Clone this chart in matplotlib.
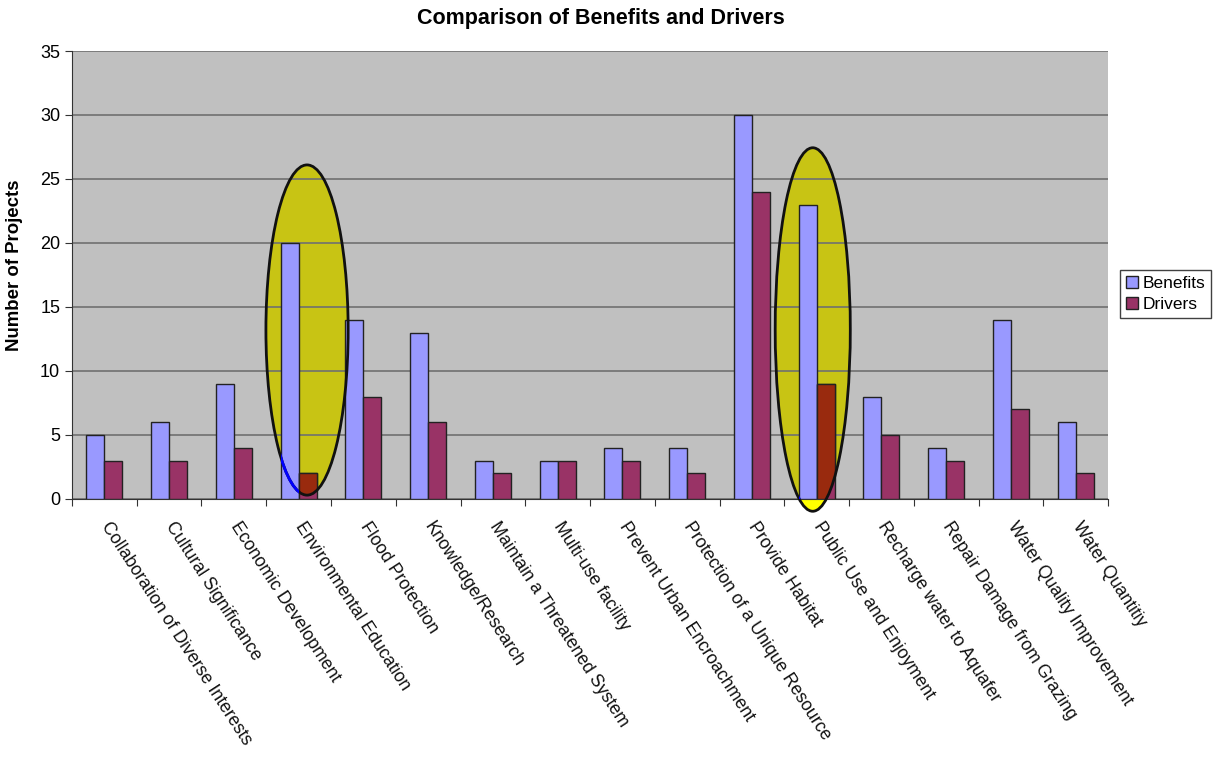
import numpy as np
import matplotlib
matplotlib.use("Agg")
import matplotlib.pyplot as plt
from matplotlib.patches import Ellipse

categories = ["Collaboration of Diverse Interests", "Cultural Significance",
              "Economic Development", "Environmental Education", "Flood Protection",
              "Knowledge/Research", "Maintain a Threatened System", "Multi-use facility",
              "Prevent Urban Encroachment", "Protection of a Unique Resource",
              "Provide Habitat", "Public Use and Enjoyment", "Recharge water to Aquafer",
              "Repair Damage from Grazing", "Water Quality Improvement", "Water Quantitiy"]
benefits = [5, 6, 9, 20, 14, 13, 3, 3, 4, 4, 30, 23, 8, 4, 14, 6]
drivers = [3, 3, 4, 2, 8, 6, 2, 3, 3, 2, 24, 9, 5, 3, 7, 2]
highlighted = [3, 11]

plt.rcParams['font.family'] = ['Liberation Sans', 'DejaVu Sans']

fig = plt.figure(figsize=(12.14, 7.59), dpi=100)
ax = fig.add_axes([0.0593, 0.3426, 0.8534, 0.5902])
ax.set_facecolor('#C0C0C0')

x = np.arange(len(categories))
w = 0.278
ax.yaxis.grid(True, color='#707070', linewidth=1.2, zorder=1)

# highlight ellipses (centre / size in data units)
ell_specs = [(3.13, 13.2, 1.27, 25.8), (10.94, 13.24, 1.16, 28.4)]
ellipses = []
for cx, cy, ew, eh in ell_specs:
    # bright yellow shows only where the ellipse leaves the plot area
    ax.add_patch(Ellipse((cx, cy), ew, eh, facecolor='#FFFF00', edgecolor='none',
                         zorder=0.4, clip_on=False))
    e = Ellipse((cx, cy), ew, eh, facecolor='#C8C414', edgecolor='none', zorder=0.5)
    ax.add_patch(e)
    ellipses.append(e)

bb = ax.bar(x - w / 2, benefits, w, color='#9999FF', edgecolor='#222222',
            linewidth=1, label='Benefits', zorder=3)
bd = ax.bar(x + w / 2, drivers, w, color='#993366', edgecolor='#222222',
            linewidth=1, label='Drivers', zorder=3)

# tinted drivers bars inside the ellipses, and ellipse outlines
for (cx, cy, ew, eh), e, i in zip(ell_specs, ellipses, highlighted):
    r = ax.bar(x[i] + w / 2, drivers[i], w, color='#992A0E', edgecolor='#222222',
               linewidth=1, zorder=3.5)
    for p in r:
        p.set_clip_path(e)
    blue = Ellipse((cx, cy), ew, eh, facecolor='none', edgecolor='#0000FF',
                   linewidth=2, zorder=4)
    ax.add_patch(blue)
    blue.set_clip_path(bb[i])
    ax.add_patch(Ellipse((cx, cy), ew, eh, facecolor='none', edgecolor='#111111',
                         linewidth=2, zorder=3.8, clip_on=False))

ax.set_xlim(-0.5, len(categories) - 0.5)
ax.set_ylim(0, 35)
ax.set_yticks(range(0, 36, 5))
ax.set_xticks(np.arange(-0.5, len(categories), 1.0))
ax.set_xticklabels([])
ax.tick_params(axis='x', length=5, direction='out', color='#333333')
ax.tick_params(axis='y', length=5, direction='out', labelsize=13, color='#333333')
for i, lab in enumerate(categories):
    ax.text(x[i], -1.9, lab, rotation=-57, rotation_mode='anchor', ha='left',
            va='center', fontsize=12.8, color='#111111')

ax.spines['top'].set_visible(False)
ax.spines['right'].set_visible(False)
ax.spines['left'].set_color('#333333')
ax.spines['bottom'].set_color('#333333')

ax.set_ylabel('Number of Projects', fontsize=13.4, fontweight='bold')
ax.yaxis.set_label_coords(-0.047, 0.522)
fig.suptitle('Comparison of Benefits and Drivers', x=0.495, y=0.99,
             fontsize=15.5, fontweight='bold')

leg = ax.legend(loc='center left', bbox_to_anchor=(1.008, 0.458), fontsize=12.5,
                frameon=True, fancybox=False, edgecolor='#111111', handlelength=0.7,
                handleheight=0.7, handletextpad=0.25, borderpad=0.35, labelspacing=0.35,
                borderaxespad=0.2)
leg.get_frame().set_linewidth(1)

fig.savefig('out.png', dpi=100)
